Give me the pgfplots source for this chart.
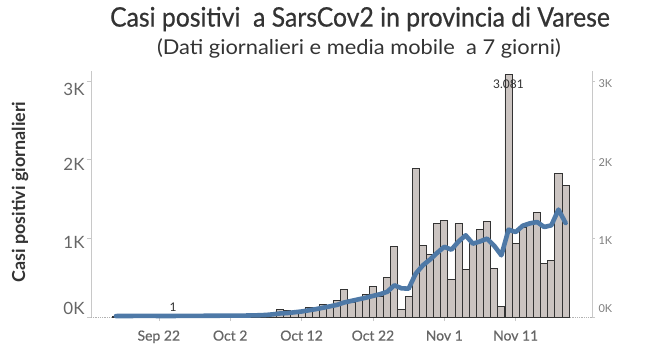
\documentclass[border=0pt]{standalone}
\usepackage{pgfplots}
\pgfplotsset{compat=1.18}
\usepackage{pgfplotstable}
\usepackage{fontspec}
\setmainfont{Lato}
\newfontfamily\medfont[FakeBold=0.6]{Lato}
\definecolor{barfill}{HTML}{CBC4C1}
\definecolor{barline}{HTML}{333333}
\definecolor{ma}{HTML}{4E79A7}
\definecolor{txt}{HTML}{333333}
\definecolor{tickc}{HTML}{666666}
\definecolor{axc}{HTML}{C8C8C8}

\pgfplotstableread{
d v
-6 10
-5 14
-4 9
-3 17
-2 12
-1 15
0 11
1 8
2 1
3 13
4 18
5 10
6 16
7 14
8 20
9 12
10 18
11 15
12 22
13 19
14 25
15 30
16 38
17 96
18 82
19 60
20 70
21 120
22 85
23 158
24 142
25 210
26 348
27 180
28 236
29 286
30 384
31 265
32 500
33 893
34 94
35 258
36 1886
37 907
38 793
39 1187
40 1225
41 475
42 1187
43 602
44 940
45 1110
46 1212
47 612
48 130
49 3081
50 936
51 1140
52 1200
53 1327
54 676
55 718
56 1822
57 1670
}\daily

\pgfplotstableread{
d m
-6 12
-5 13
-4 13
-3 14
-2 14
-1 14
0 13
1 13
2 13
3 14
4 14
5 15
6 15
7 16
8 16
9 17
10 17
11 18
12 18
13 20
14 22
15 26
16 34
17 45
18 50
19 60
20 70
21 85
22 100
23 118
24 136
25 155
26 185
27 205
28 225
29 245
30 268
31 290
32 320
33 403
34 365
35 360
36 551
37 657
38 730
39 815
40 892
41 856
42 960
43 1038
44 932
45 960
46 996
47 905
48 784
49 1110
50 1080
51 1160
52 1190
53 1207
54 1144
55 1165
56 1365
57 1194
}\mavg

\begin{document}
\begin{tikzpicture}[x=1bp,y=1bp]
\useasboundingbox (0,0) rectangle (650,353);
\node[text=txt, inner sep=0pt] at (360,334) {\scalebox{0.92}[1]{\fontsize{27}{30}\selectfont\medfont Casi positivi\ \ a SarsCov2 in provincia di Varese}};
\node[text=txt, inner sep=0pt] at (359,305) {\scalebox{1.07}[1]{\fontsize{20.5}{24}\selectfont (Dati giornalieri e media mobile\ \ a 7 giorni)}};
\node[font=\fontsize{18}{21}\selectfont\bfseries, text=txt, rotate=90, inner sep=0pt] at (20,161) {Casi positivi giornalieri};

\begin{axis}[
  at={(91bp,36bp)}, anchor=south west,
  scale only axis, width=501bp, height=245.5bp,
  xmin=-9.5, xmax=60.7, ymin=0, ymax=3120,
  axis y line*=left, axis x line*=bottom,
  y axis line style={axc, line width=0.8pt},
  x axis line style={gray!60, densely dotted, line width=0.8pt},
  xtick={0,10,20,30,40,50},
  xticklabels={Sep 22, Oct 2, Oct 12, Oct 22, Nov 1, Nov 11},
  ytick={0,1000,2000,3000},
  yticklabels={\raisebox{9bp}[\height][\depth]{0K},\raisebox{-4bp}[\height][\depth]{1K},\raisebox{-4.5bp}[\height][\depth]{2K},\raisebox{-8.5bp}[\height][\depth]{3K}},
  tick align=outside, major tick length=4bp,
  tick style={axc, line width=0.6pt},
  x tick label style={font=\fontsize{14}{16}\selectfont\medfont, text=tickc, yshift=-6bp},
  y tick label style={font=\fontsize{17}{19}\selectfont, text=tickc, xshift=1bp},
  clip=false,
]
\addplot[ybar, bar width=7.13bp, fill=barfill, draw=barline, line width=0.9pt] table[x=d, y=v] {\daily};
\addplot[ma, line width=4.6bp, line join=round, line cap=round] table[x=d, y=m] {\mavg};
\node[font=\fontsize{12}{14}\selectfont, text=txt, anchor=north, inner sep=0pt, yshift=-5bp] at (axis cs:49,3081) {3.081};
\node[font=\fontsize{12}{14}\selectfont, text=txt, anchor=south, inner sep=0pt, yshift=5bp] at (axis cs:2,1) {1};
\end{axis}

\begin{axis}[
  at={(91bp,36bp)}, anchor=south west,
  scale only axis, width=501bp, height=245.5bp,
  xmin=-9.5, xmax=60.7, ymin=0, ymax=3120,
  axis y line*=right, axis x line=none,
  y axis line style={axc, line width=0.8pt},
  ytick={0,1000,2000,3000},
  yticklabels={\raisebox{8bp}[\height][\depth]{0K},\raisebox{-2bp}[\height][\depth]{1K},\raisebox{-2.5bp}[\height][\depth]{2K},\raisebox{-3bp}[\height][\depth]{3K}},
  tick align=outside, major tick length=3bp,
  tick style={axc, line width=0.6pt},
  y tick label style={font=\fontsize{11}{13}\selectfont, text=tickc!85},
]
\end{axis}
\end{tikzpicture}
\end{document}
